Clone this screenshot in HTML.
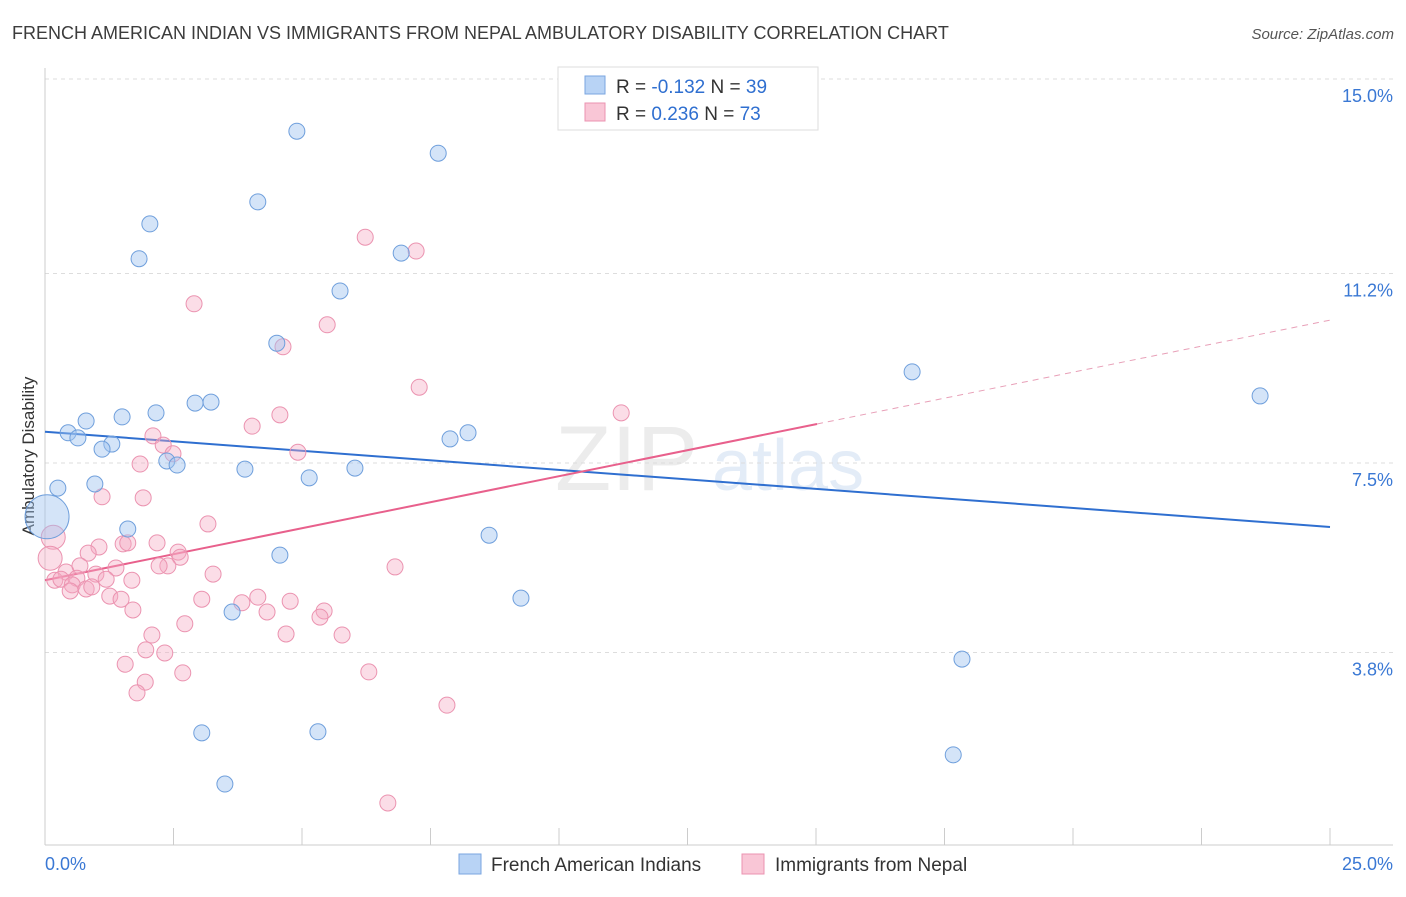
<!DOCTYPE html>
<html><head><meta charset="utf-8"><style>
body{margin:0;background:#fff;font-family:"Liberation Sans",sans-serif;}
svg text{font-family:"Liberation Sans",sans-serif;}
</style></head><body>
<svg id="chart" width="1406" height="892" xmlns="http://www.w3.org/2000/svg">
<text x="12" y="39" font-size="18" fill="#3c3c3c">FRENCH AMERICAN INDIAN VS IMMIGRANTS FROM NEPAL AMBULATORY DISABILITY CORRELATION CHART</text>
<text x="1394" y="39" font-size="15" fill="#555" text-anchor="end" font-style="italic">Source: ZipAtlas.com</text>
<text transform="translate(34,456) rotate(-90)" font-size="17" fill="#333" text-anchor="middle">Ambulatory Disability</text>
<g opacity="0.18"><text x="555" y="490" font-size="92" fill="#999" font-family="Liberation Serif">ZIP</text><text x="712" y="490" font-size="72" fill="#6a9ad8">atlas</text></g>
<g id="grid"></g><g id="axes"></g><g id="lines"></g><g id="pts"></g>
<g>
<rect x="558" y="67" width="260" height="63" fill="#fff" stroke="#ddd"/>
<rect x="585" y="76" width="20" height="18" fill="#b8d3f5" stroke="#7aa6e0"/>
<text x="616" y="93" font-size="19" fill="#333">R = <tspan fill="#2f6fd0">-0.132</tspan>   N = <tspan fill="#2f6fd0">39</tspan></text>
<rect x="585" y="103" width="20" height="18" fill="#f9c6d6" stroke="#eb93b0"/>
<text x="616" y="120" font-size="19" fill="#333">R =  <tspan fill="#2f6fd0">0.236</tspan>   N = <tspan fill="#2f6fd0">73</tspan></text>
</g>
<g>
<rect x="459" y="854" width="22" height="20" fill="#b8d3f5" stroke="#7aa6e0"/>
<text x="491" y="871" font-size="19" fill="#333">French American Indians</text>
<rect x="742" y="854" width="22" height="20" fill="#f9c6d6" stroke="#eb93b0"/>
<text x="775" y="871" font-size="19" fill="#333">Immigrants from Nepal</text>
</g>
</svg>
<script>
const yTicks=[3.8,7.5,11.2,15.0];
const yTickLabels=["3.8%","7.5%","11.2%","15.0%"];
const xTickLabels=["0.0%","25.0%"];
const blueX=[4.90,7.65,4.14,2.04,1.83,6.93,5.74,4.51,16.87,23.64,2.92,3.23,2.16,1.50,0.80,0.45,0.64,1.30,1.11,7.88,8.23,2.37,2.57,3.89,6.03,5.14,0.97,0.25,1.61,8.64,4.57,9.26,3.64,17.84,3.05,5.31,17.67,3.50,0.04];
const blueY=[13.98,13.55,12.60,12.17,11.49,11.60,10.86,9.84,9.28,8.81,8.67,8.69,8.48,8.40,8.32,8.09,7.99,7.87,7.77,7.97,8.09,7.54,7.46,7.38,7.40,7.21,7.09,7.01,6.21,6.09,5.70,4.86,4.59,3.67,2.23,2.25,1.80,1.23,6.45];
const pinkX=[6.23,7.22,2.90,5.49,4.63,7.28,11.21,4.57,4.03,2.10,2.30,2.49,4.92,1.85,1.91,1.11,3.17,0.16,0.10,2.18,1.52,1.61,1.05,0.84,2.59,2.63,2.39,2.22,6.81,0.41,0.68,1.38,0.99,0.62,0.19,0.31,1.69,1.19,3.27,0.53,0.80,0.49,0.91,1.26,1.48,3.05,3.83,4.14,4.77,4.32,5.43,5.35,1.71,2.72,2.08,4.69,5.78,1.96,2.33,1.56,2.68,6.30,1.95,1.79,7.82,6.67];
const pinkY=[11.91,11.64,10.61,10.20,9.77,8.98,8.48,8.44,8.22,8.03,7.85,7.68,7.71,7.48,6.82,6.84,6.31,6.05,5.64,5.94,5.92,5.94,5.86,5.74,5.76,5.66,5.49,5.49,5.47,5.37,5.49,5.45,5.33,5.25,5.21,5.23,5.21,5.23,5.33,5.12,5.04,5.00,5.08,4.90,4.84,4.84,4.77,4.88,4.80,4.59,4.61,4.49,4.63,4.36,4.14,4.16,4.14,3.85,3.79,3.57,3.40,3.42,3.22,3.01,2.77,0.86];
const blueTrend=[8.11,6.25];
const pinkTrend=[5.21,10.29];
const NS="http://www.w3.org/2000/svg";
const X=v=>45+v*51.4, Y=v=>463-(v-7.5)*51.2;
function mk(tag,parent,attrs){const e=document.createElementNS(NS,tag);for(const k in attrs)e.setAttribute(k,attrs[k]);document.getElementById(parent).appendChild(e);return e;}
yTicks.forEach((t,i)=>{
 const g=mk('line','grid',{x1:45,x2:1393,y1:Y(t),y2:Y(t),stroke:'#ddd','stroke-dasharray':'4,4'});
 
 
 const l=mk('text','axes',{x:1393,y:Y(t)+23,'font-size':18,fill:'#3a78d4','text-anchor':'end'});
 l.textContent=yTickLabels[i];
 
 
});
const tg=mk('line','grid',{x1:45,x2:1393,y1:79,y2:79,stroke:'#ddd','stroke-dasharray':'4,4'});


const ax=mk('line','axes',{x1:45,x2:1393,y1:845,y2:845,stroke:'#ccc'});


const ay=mk('line','axes',{x1:45,x2:45,y1:68,y2:845,stroke:'#ccc'});


for(let i=0;i<=10;i++){const t=mk('line','axes',{x1:X(i*2.5),x2:X(i*2.5),y1:828,y2:845,stroke:'#ccc'});
 
 }
xTickLabels.forEach((s,i)=>{const t=mk('text','axes',{x:i?1393:45,y:870,'font-size':18,fill:'#3a78d4','text-anchor':i?'end':'start'});t.textContent=s;
 
 });
const bl=mk('line','lines',{x1:X(0),y1:Y(blueTrend[0]),x2:X(25),y2:Y(blueTrend[1]),stroke:'#2f6fd0','stroke-width':2});


const pm=pinkTrend[0]+(pinkTrend[1]-pinkTrend[0])*15.02/25;
const pl=mk('line','lines',{x1:X(0),y1:Y(pinkTrend[0]),x2:X(15.02),y2:Y(pm),stroke:'#e8608c','stroke-width':2});


const pd=mk('line','lines',{x1:X(15.02),y1:Y(pm),x2:X(25),y2:Y(pinkTrend[1]),stroke:'#e8a0b8','stroke-width':1,'stroke-dasharray':'6,5'});


pinkX.forEach((x,i)=>{const c=mk('circle','pts',{cx:X(x),cy:Y(pinkY[i]),r:i==17||i==18?12:8,fill:'rgba(246,170,195,0.4)',stroke:'#eb93b0','stroke-width':1});
 
 });
blueX.forEach((x,i)=>{const c=mk('circle','pts',{cx:X(x),cy:Y(blueY[i]),r:i==38?22:8,fill:'rgba(160,195,240,0.45)',stroke:'#6f9fdc','stroke-width':1});
 
 });
</script>
</body></html>
